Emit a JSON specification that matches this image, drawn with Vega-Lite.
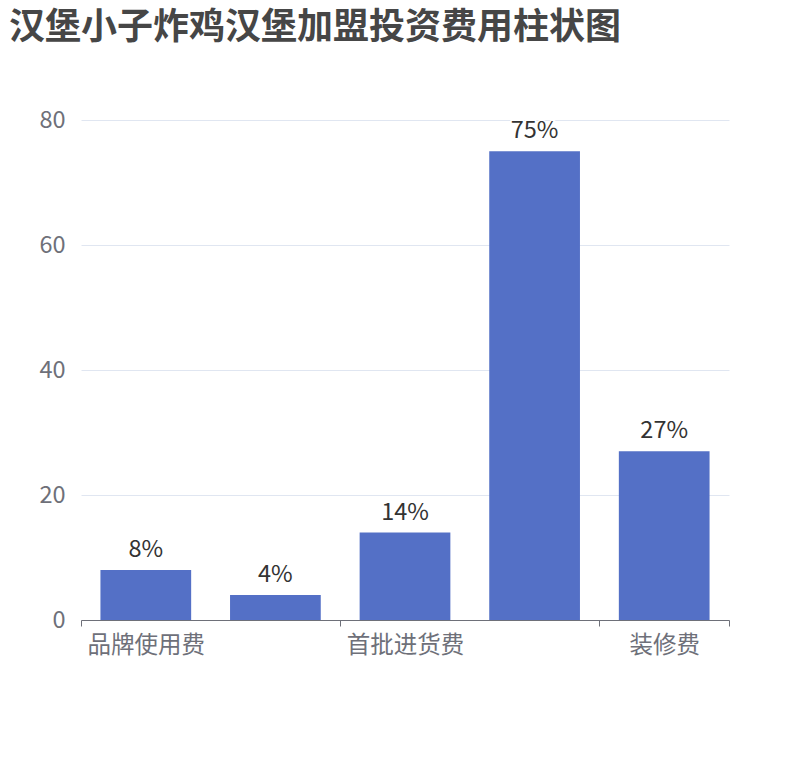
{
  "$schema": "https://vega.github.io/schema/vega-lite/v6.json",
  "description": "汉堡小子炸鸡汉堡加盟投资费用柱状图",
  "autosize": {"type": "none"},
  "padding": {"left": 81, "top": 120, "right": 81, "bottom": 140},
  "width": 648,
  "height": 500,
  "title": {
    "text": "汉堡小子炸鸡汉堡加盟投资费用柱状图",
    "anchor": "start",
    "frame": "group",
    "dx": -72,
    "offset": 61,
    "font": "Noto Sans CJK SC",
    "fontSize": 36,
    "fontWeight": "bold",
    "color": "#464646"
  },
  "data": {
    "values": [
      {"item": "品牌使用费", "value": 8, "label": "8%"},
      {"item": "保证金", "value": 4, "label": "4%"},
      {"item": "首批进货费", "value": 14, "label": "14%"},
      {"item": "设备费", "value": 75, "label": "75%"},
      {"item": "装修费", "value": 27, "label": "27%"}
    ]
  },
  "encoding": {
    "x": {
      "field": "item",
      "type": "nominal",
      "sort": null,
      "title": null,
      "scale": {"paddingInner": 0, "paddingOuter": 0},
      "axis": {
        "labelAngle": 0,
        "labelFont": "Noto Sans CJK SC",
        "labelFontSize": 23.5,
        "labelColor": "#6E7079",
        "labelPadding": 7,
        "labelBaseline": "top",
        "labelExpr": "datum.value == '保证金' || datum.value == '设备费' ? '' : datum.label",
        "domainColor": "#6E7079",
        "tickColor": "#6E7079",
        "tickSize": 6,
        "tickBand": "extent",
        "tickOpacity": {
          "condition": {"test": "(datum.value == '品牌使用费' && !datum.extra) || datum.value == '首批进货费'", "value": 0},
          "value": 1
        },
        "grid": false
      }
    },
    "y": {
      "field": "value",
      "type": "quantitative",
      "title": null,
      "scale": {"domain": [0, 80]},
      "axis": {
        "values": [0, 20, 40, 60, 80],
        "labelFont": "Noto Sans CJK SC",
        "labelFontSize": 23.5,
        "labelColor": "#6E7079",
        "labelPadding": 16,
        "domain": false,
        "ticks": false,
        "gridColor": "#E0E6F1",
        "gridWidth": 1
      }
    }
  },
  "layer": [
    {
      "mark": {"type": "bar", "color": "#5470C6", "width": {"band": 0.7}}
    },
    {
      "mark": {
        "type": "text",
        "font": "Noto Sans CJK SC",
        "fontSize": 23.5,
        "baseline": "alphabetic",
        "dy": -13,
        "color": "#ffffff",
        "stroke": "#ffffff",
        "strokeWidth": 3
      },
      "encoding": {"text": {"field": "label"}}
    },
    {
      "mark": {
        "type": "text",
        "font": "Noto Sans CJK SC",
        "fontSize": 23.5,
        "baseline": "alphabetic",
        "dy": -13,
        "color": "#333333"
      },
      "encoding": {"text": {"field": "label"}}
    }
  ],
  "config": {"view": {"stroke": null}}
}
